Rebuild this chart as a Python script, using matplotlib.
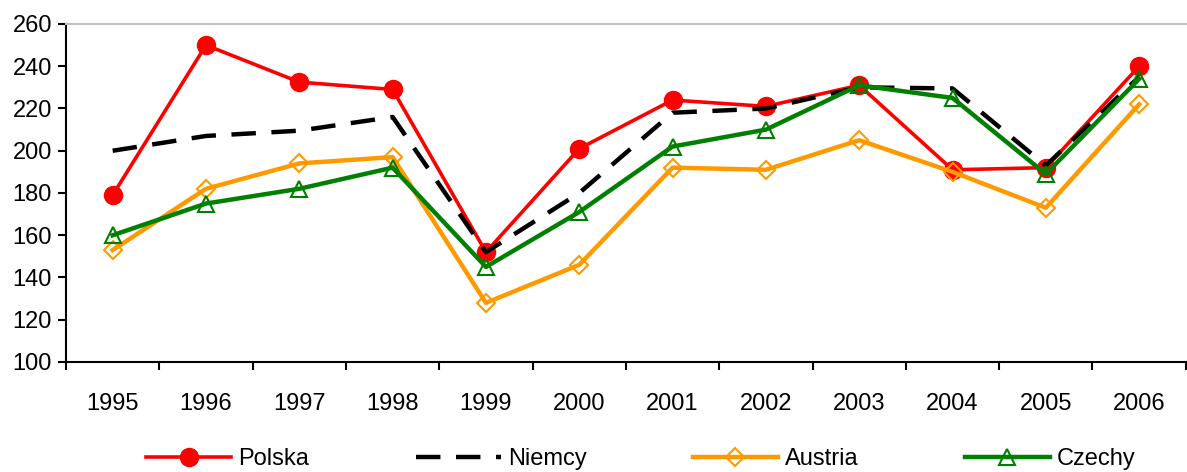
import matplotlib.pyplot as plt
from matplotlib.ticker import FixedLocator
import numpy as np

plt.rcParams['font.family'] = ['Liberation Sans', 'DejaVu Sans']

years = ['1995', '1996', '1997', '1998', '1999', '2000',
         '2001', '2002', '2003', '2004', '2005', '2006']
polska = [179, 250, 232.5, 229, 152, 201, 224, 221, 231, 191, 192, 240]
niemcy = [200, 207, 209.5, 216, 152, 180, 218, 220, 230, 229.5, 193, 235]
austria = [153, 182, 194, 197, 128, 146, 192, 191, 205, 190, 173, 222]
czechy = [160, 175, 182, 192, 145, 171, 202, 210, 231, 225, 189, 234]

x = np.arange(len(years))

fig = plt.figure(figsize=(11.87, 4.72), dpi=100)
ax = fig.add_axes([66/1187, 1 - 362/472, 1 - 66/1187 - 0.001, (362 - 24)/472])

ax.plot(x, polska, color='#ff0000', lw=2.6, marker='o', ms=13,
        mfc='#ff0000', mec='#ff0000', label='Polska')
ax.plot(x, niemcy, color='black', lw=3.2, dashes=(5.5, 3.5), label='Niemcy')
ax.plot(x, austria, color='#ff9900', lw=3.2, marker='D', ms=9,
        mfc='none', mec='#ff9900', mew=1.5, label='Austria')
ax.plot(x, czechy, color='#008000', lw=3.2, marker='^', ms=11,
        mfc='none', mec='#008000', mew=1.5, label='Czechy')

ax.set_xlim(-0.5, len(years) - 0.5)
ax.set_ylim(100, 260)
ax.set_yticks(np.arange(100, 261, 20))
ax.set_xticks(x)
ax.set_xticklabels(years)
ax.xaxis.set_minor_locator(FixedLocator(np.arange(-0.5, len(years), 1)))
ax.tick_params(axis='x', which='major', length=0, pad=22, labelsize=17)
ax.tick_params(axis='x', which='minor', length=6, width=1.5, direction='out')
ax.tick_params(axis='y', length=6, width=1.5, direction='out', labelsize=17, pad=4)

for s in ['left', 'bottom']:
    ax.spines[s].set_linewidth(1.5)
ax.spines['right'].set_visible(False)
ax.spines['top'].set_color('#c0c0c0')
ax.spines['top'].set_linewidth(1.5)

fig.legend(loc='center', bbox_to_anchor=(0.54, 1 - 459/472), ncol=4,
           frameon=False, fontsize=17, handlelength=3.6, handletextpad=0.3,
           columnspacing=4.5, borderaxespad=0)

fig.savefig('out.png', dpi=100)
